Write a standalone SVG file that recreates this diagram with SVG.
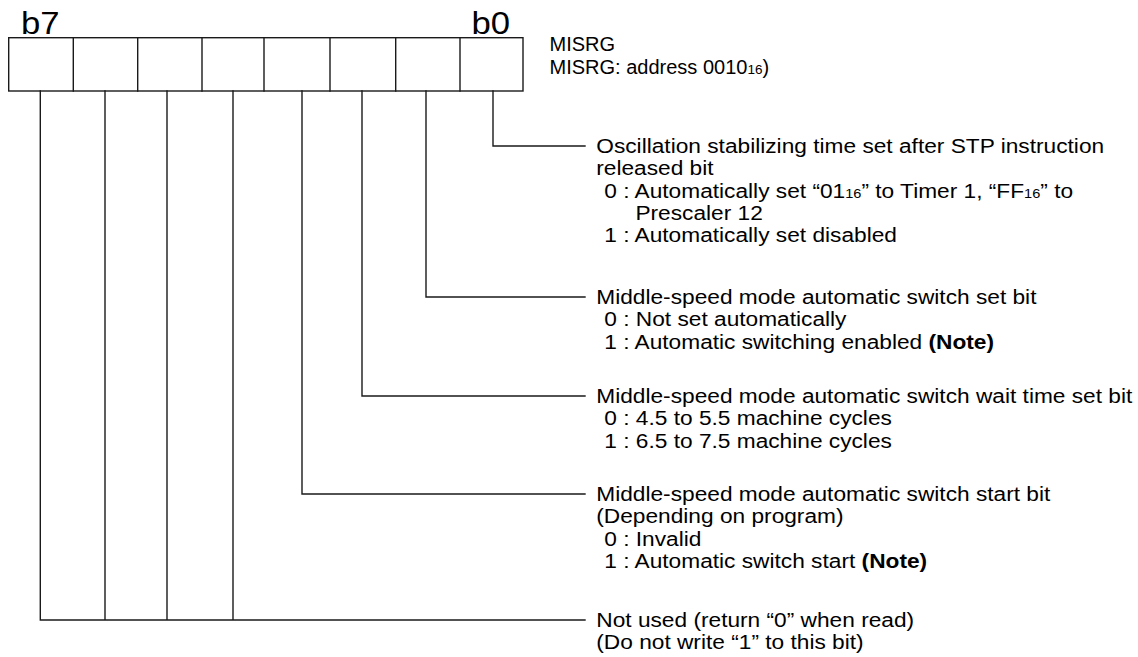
<svg xmlns="http://www.w3.org/2000/svg" width="1138" height="657" viewBox="0 0 1138 657">
<style>
.ln{fill:none;stroke:#1a1a1a;stroke-width:1.4;stroke-linecap:square}
.t{font-family:"Liberation Sans",Arial,Helvetica,sans-serif;font-size:21px;fill:#000}
.h{font-family:"Liberation Sans",Arial,Helvetica,sans-serif;font-size:20px;fill:#000}
.big{font-family:"Liberation Sans",Arial,Helvetica,sans-serif;font-size:31px;fill:#000}
.sub{font-size:13.5px}
.b{font-weight:bold}
</style>
<rect width="1138" height="657" fill="#fff"/>
<g id="register">
<rect class="ln" x="8.7" y="37.7" width="514.3" height="53.3"/>
<path class="ln" d="M73.3 37.7V91M137.7 37.7V91M202 37.7V91M264 37.7V91M330 37.7V91M395.7 37.7V91M460 37.7V91"/>
<g transform="scale(1.12,1)">
<text class="big" x="18.8" y="34">b7</text>
<text class="big" x="421" y="34">b0</text>
</g>
<text class="h" x="549.5" y="51">MISRG</text>
<text class="h" x="549.5" y="74">MISRG: address 0010<tspan class="sub">16</tspan>)</text>
</g>
<g id="connectors">
<path class="ln" d="M493 91V146H585"/>
<path class="ln" d="M426 91V297H585"/>
<path class="ln" d="M362 91V396H585"/>
<path class="ln" d="M302 91V494H585"/>
<path class="ln" d="M233 91V620M167 91V620M105 91V620M40.3 91V620H585"/>
</g>
<g transform="scale(1.081,1)">
<g id="bit0">
<text class="t" x="551.6" y="153.3">Oscillation stabilizing time set after STP instruction</text>
<text class="t" x="551.6" y="175.5">released bit</text>
<text class="t" x="559" y="197.7">0 : Automatically set “01<tspan class="sub">16</tspan>” to Timer 1, “FF<tspan class="sub">16</tspan>” to</text>
<text class="t" x="587.8" y="219.9">Prescaler 12</text>
<text class="t" x="559" y="242.1">1 : Automatically set disabled</text>
</g>
<g id="bit1">
<text class="t" x="551.6" y="304.3">Middle-speed mode automatic switch set bit</text>
<text class="t" x="559" y="326.5">0 : Not set automatically</text>
<text class="t" x="559" y="348.7">1 : Automatic switching enabled <tspan class="b">(Note)</tspan></text>
</g>
<g id="bit2">
<text class="t" x="551.6" y="403.3">Middle-speed mode automatic switch wait time set bit</text>
<text class="t" x="559" y="425.5">0 : 4.5 to 5.5 machine cycles</text>
<text class="t" x="559" y="447.7">1 : 6.5 to 7.5 machine cycles</text>
</g>
<g id="bit3">
<text class="t" x="551.6" y="501.3">Middle-speed mode automatic switch start bit</text>
<text class="t" x="551.6" y="523.5">(Depending on program)</text>
<text class="t" x="559" y="545.7">0 : Invalid</text>
<text class="t" x="559" y="567.9">1 : Automatic switch start <tspan class="b">(Note)</tspan></text>
</g>
<g id="bits4to7">
<text class="t" x="551.6" y="627.3">Not used (return “0” when read)</text>
<text class="t" x="551.6" y="649.5">(Do not write “1” to this bit)</text>
</g>
</g>
</svg>
